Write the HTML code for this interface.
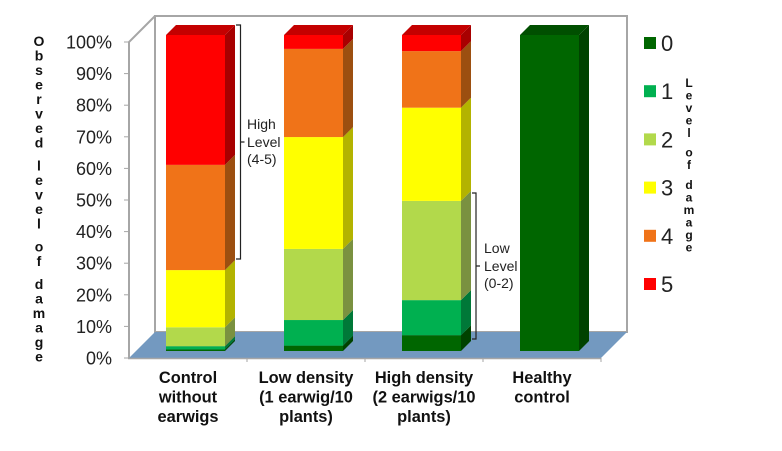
<!DOCTYPE html>
<html lang="en">
<head>
<meta charset="utf-8">
<title>Observed level of damage</title>
<style>
html,body{margin:0;padding:0;background:#fff;}
#stage{position:relative;width:782px;height:451px;overflow:hidden;background:#fff;font-family:"Liberation Sans",sans-serif;}
#chart{position:absolute;left:0;top:0;}
.vtitle{position:absolute;writing-mode:vertical-rl;text-orientation:upright;font-weight:bold;color:#111;white-space:nowrap;}
#y-title{left:30px;top:33px;font-size:14px;line-height:18px;letter-spacing:-1.5px;word-spacing:-6px;}
#legend-title{left:680px;top:76px;font-size:12px;line-height:18px;letter-spacing:-1.55px;word-spacing:-5px;}
</style>
</head>
<body>
<div id="stage">
<svg id="chart" width="782" height="451" viewBox="0 0 782 451" xmlns="http://www.w3.org/2000/svg"></svg>
<div id="y-title" class="vtitle">Observed level of damage</div>
<div id="legend-title" class="vtitle">Level of damage</div>
</div>
<script>
const categories = ["Control without earwigs", "Low density (1 earwig/10 plants)", "High density (2 earwigs/10 plants)", "Healthy control"];
const categoryLines = [["Control", "without", "earwigs"], ["Low density", "(1 earwig/10", "plants)"], ["High density", "(2 earwigs/10", "plants)"], ["Healthy", "control"]];
const levels = ["0", "1", "2", "3", "4", "5"];
const level0 = [0.5, 1.7, 5, 100];
const level1 = [1.0, 8.1, 11.1, 0];
const level2 = [6.0, 22.5, 31.4, 0];
const level3 = [18.1, 35.4, 29.5, 0];
const level4 = [33.3, 27.9, 17.9, 0];
const level5 = [41.1, 4.4, 5.1, 0];
const series = [level0, level1, level2, level3, level4, level5];
const tickLabels = [0, 10, 20, 30, 40, 50, 60, 70, 80, 90, 100];
const frontColors = ["#006600", "#00b050", "#b2d94b", "#ffff00", "#f07318", "#ff0000"];
const sideColors = ["#004200", "#007838", "#7a9140", "#b3b300", "#9c4f10", "#a80000"];
const topColors = ["#004f00", "#008a40", "#8aa83a", "#cccc00", "#bf5c13", "#c40000"];

const svg = document.getElementById("chart");
const NS = "http://www.w3.org/2000/svg";
function make(tag, attrs, text) {
  const el = document.createElementNS(NS, tag);
  for (const k in attrs) el.setAttribute(k, attrs[k]);
  if (text !== undefined) el.textContent = text;
  svg.appendChild(el);
  return el;
}
const wallGrey = "#a6a6a6";
const depth = 26, barDepth = 10, barWidth = 59;
const plotLeft = 129, plotRight = 601, axisTop = 42, axisBottom = 358;
const yFront = v => 351 - 3.16 * v;
const yAxis = v => axisBottom - (axisBottom - axisTop) * v / 100;
const xBand = i => plotLeft + (plotRight - plotLeft) * i / categories.length;
const barX = i => xBand(i) + 37;
const pts = a => a.map(p => p.join(",")).join(" ");
let el;

el = make("rect", {x: plotLeft + depth, y: axisTop - depth, width: plotRight - plotLeft, height: axisBottom - axisTop, fill: "#fff", stroke: wallGrey, "stroke-width": 2});



el = make("polyline", {points: pts([[plotLeft, axisBottom], [plotLeft, axisTop], [plotLeft + depth, axisTop - depth]]), fill: "none", stroke: wallGrey, "stroke-width": 2});



el = make("polygon", {points: pts([[plotLeft, axisBottom], [plotLeft + depth, axisBottom - depth], [plotRight + depth, axisBottom - depth], [plotRight, axisBottom]]), fill: "#7399c0"});



el = make("line", {x1: plotLeft - 1, y1: axisBottom + 0.5, x2: plotRight, y2: axisBottom + 0.5, stroke: wallGrey, "stroke-width": 1.5});



categories.forEach((c, i) => {
  const tx = xBand(i + 1);
  const t = make("line", {x1: tx, y1: axisBottom, x2: tx, y2: axisBottom + 4, stroke: wallGrey, "stroke-width": 1});
  
  
});

tickLabels.forEach(v => {
  const t = make("line", {x1: plotLeft - 5, y1: yAxis(v), x2: plotLeft, y2: yAxis(v), stroke: wallGrey, "stroke-width": 1});
  
  
  const l = make("text", {x: 112, y: yAxis(v) + 6.5, "text-anchor": "end", "font-size": 18, fill: "#222"}, v + "%");
  
  
});

categories.forEach((c, i) => {
  const x = barX(i);
  let cum = 0, lastColor = 0;
  series.forEach((s, k) => {
    const v = s[i];
    if (v <= 0) return;
    const y0 = yFront(cum), y1 = yFront(cum + v);
    const side = make("polygon", {points: pts([[x + barWidth, y0], [x + barWidth + barDepth, y0 - barDepth], [x + barWidth + barDepth, y1 - barDepth], [x + barWidth, y1]]), fill: sideColors[k]});
    
    
    const front = make("rect", {x: x, y: y1, width: barWidth, height: y0 - y1, fill: frontColors[k]});
    
    
    cum += v;
    lastColor = k;
  });
  const yt = yFront(cum);
  const top = make("polygon", {points: pts([[x, yt], [x + barDepth, yt - barDepth], [x + barWidth + barDepth, yt - barDepth], [x + barWidth, yt]]), fill: topColors[lastColor]});
  
  

  categoryLines[i].forEach((line, n) => {
    const l = make("text", {x: xBand(i) + 59, y: 383 + n * 19.5, "text-anchor": "middle", "font-size": 16.4, "font-weight": "bold", fill: "#111"}, line);
    
    
  });
});

el = make("path", {d: "M236 25H240.5V259H236M240.5 142H244.5", fill: "none", stroke: "#222", "stroke-width": 1.2});


el = make("path", {d: "M472 193H476V339H472M476 266H480", fill: "none", stroke: "#222", "stroke-width": 1.2});



[["High", 129], ["Level", 147], ["(4-5)", 164]].forEach(a => {
  const l = make("text", {x: 247, y: a[1], "font-size": 14, fill: "#222"}, a[0]);
  
  
});
[["Low", 253], ["Level", 271], ["(0-2)", 288]].forEach(a => {
  const l = make("text", {x: 484, y: a[1], "font-size": 14, fill: "#222"}, a[0]);
  
  
});

levels.forEach((lv, k) => {
  const cy = 43 + k * 48.2;
  const sw = make("rect", {x: 644, y: cy - 6, width: 12, height: 12, fill: frontColors[k]});
  
  
  const l = make("text", {x: 661, y: cy + 8, "font-size": 22, fill: "#222"}, lv);
  
  
});
</script>
</body>
</html>
